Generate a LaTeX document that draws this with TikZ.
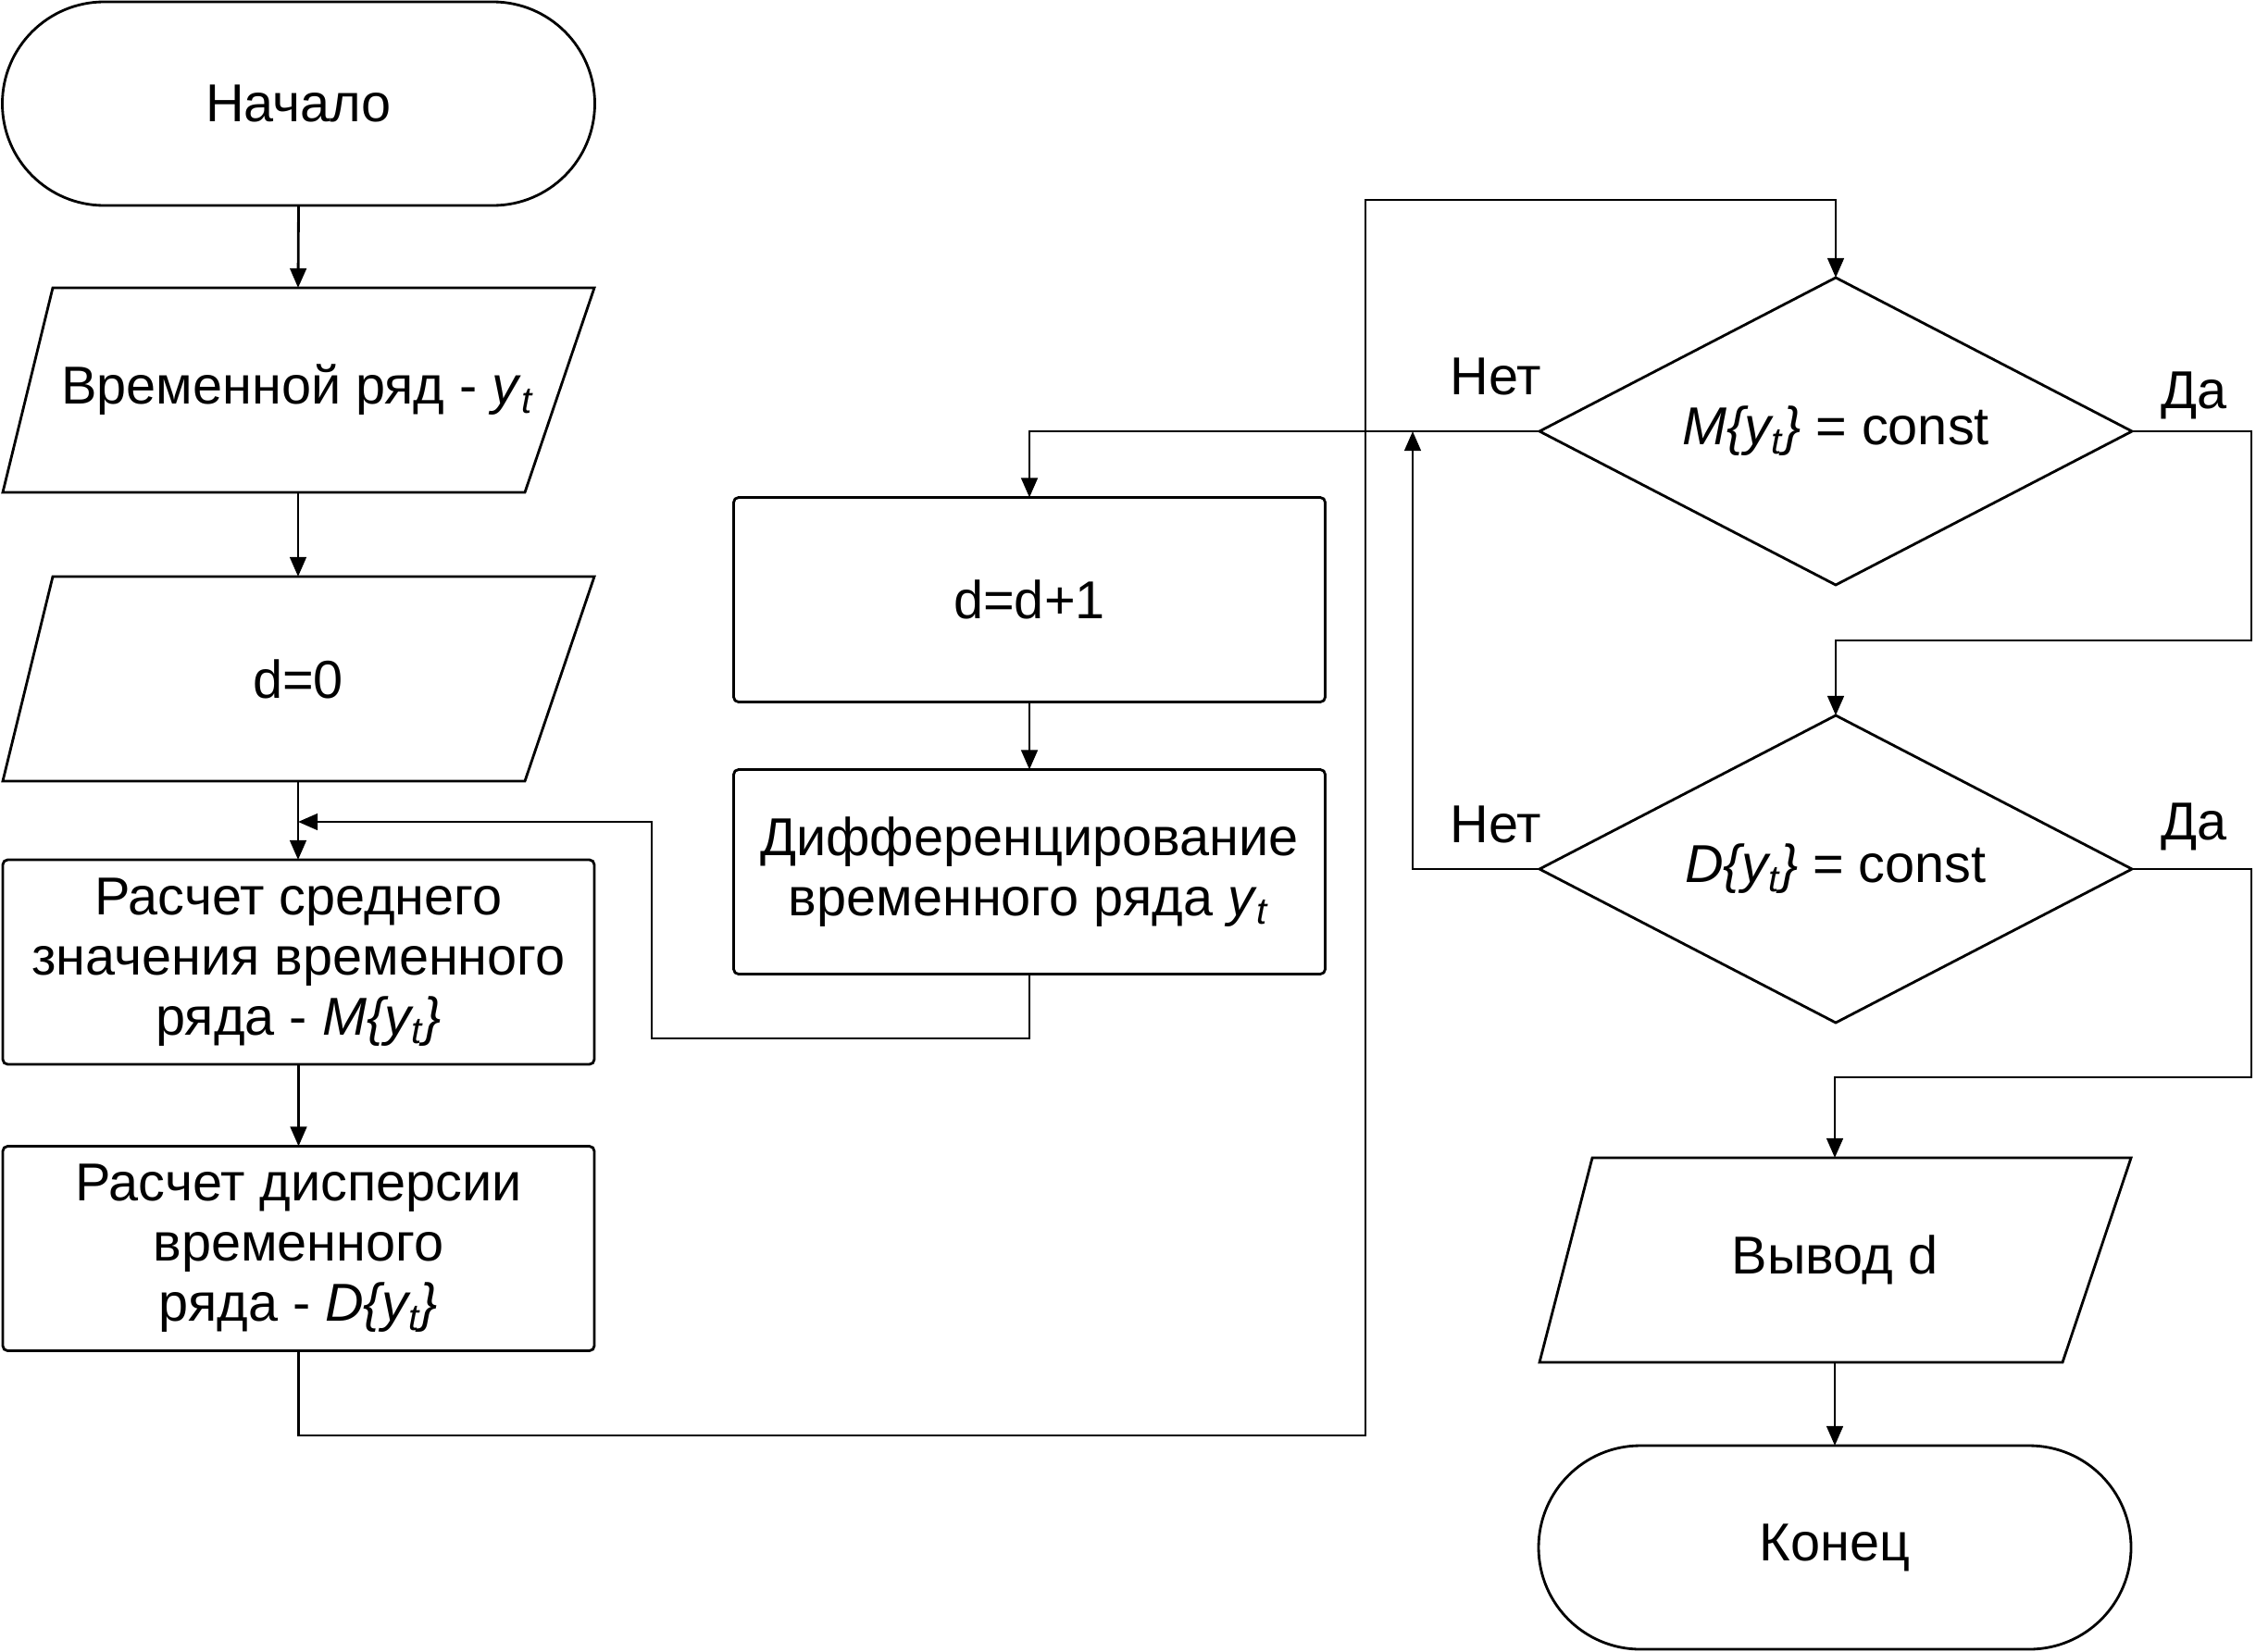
\documentclass[tikz,border=0pt]{standalone}
\usepackage{fontspec}
\setmainfont{Liberation Sans}
\usetikzlibrary{shapes.geometric,arrows.meta}

\newcommand{\yt}{\textit{y}\textsubscript{\textit{t}}}

\begin{document}
\begin{tikzpicture}[
  font=\fontsize{16.4}{18.5}\selectfont,
  every node/.style={inner sep=0pt, outer sep=0pt},
  line/.style={line width=0.8pt},
  arr/.style={line, -{Triangle[length=6pt,width=5pt]}},
  proc/.style={draw, line width=0.8pt, rounded corners=1.5pt,
    minimum width=6.39cm, minimum height=2.21cm, align=center},
  term/.style={draw, line width=0.8pt, rounded corners=1.1cm,
    minimum width=6.4cm, minimum height=2.2cm},
  iobox/.style={minimum width=6.39cm, minimum height=2.21cm, align=center},
  cond/.style={draw, diamond, aspect=1.92, line width=0.8pt,
    minimum width=6.4cm, minimum height=3.32cm},
]
\useasboundingbox (0,0) rectangle (24.37,-17.84);

% left column
\node[term] (start) at (3.225,-1.12) {Начало};

\draw[line] (0.57,-3.11) -- (6.42,-3.11) -- (5.67,-5.32) -- (0.03,-5.32) -- cycle;
\node[iobox] (series) at (3.22,-4.215) {Временной ряд - \yt};

\draw[line] (0.57,-6.23) -- (6.42,-6.23) -- (5.67,-8.44) -- (0.03,-8.44) -- cycle;
\node[iobox] (dzero) at (3.22,-7.335) {d=0};

\node[proc] (mean) at (3.225,-10.395)
  {Расчет среднего\\значения временного\\ряда - \textit{M\{y\textsubscript{t}\}}};
\node[proc] (disp) at (3.225,-13.49)
  {Расчет дисперсии\\временного\\ряда - \textit{D\{y\textsubscript{t}\}}};

% middle column
\node[proc] (incr) at (11.12,-6.48) {d=d+1};
\node[proc] (diff) at (11.12,-9.42) {Дифференцирование\\временного ряда \yt};

% right column
\node[cond] (dm) at (19.83,-4.66) {\textit{M\{y\textsubscript{t}\}} = const};
\node[cond] (dd) at (19.83,-9.39) {\textit{D\{y\textsubscript{t}\}} = const};

\draw[line] (17.20,-12.51) -- (23.02,-12.51) -- (22.28,-14.72) -- (16.63,-14.72) -- cycle;
\node[iobox] (out) at (19.82,-13.615) {Вывод d};

\node[term] (stop) at (19.82,-16.72) {Конец};

% branch labels
\node (no1) at (16.16,-4.07) {Нет};
\node (yes1) at (23.70,-4.27) {Да};
\node (no2) at (16.16,-8.91) {Нет};
\node (yes2) at (23.70,-8.93) {Да};

% routing points
\coordinate (j1) at (14.75,-15.51);
\coordinate (j2) at (14.75,-2.16);
\coordinate (k1) at (7.04,-11.22);
\coordinate (k2) at (3.22,-8.88);
\coordinate (n2) at (15.26,-4.66);
\coordinate (r1) at (24.32,-6.92);
\coordinate (r2) at (24.32,-11.64);

% connectors
\draw[arr] (start.south) -- (series.north);
\draw[arr] (series.south) -- (dzero.north);
\draw[arr] (dzero.south) -- (3.22,-9.29);
\draw[arr] (mean.south) -- (disp.north);
\draw[arr] (disp.south) |- (j1) -- (j2) -| (dm.north);
\draw[arr] (dm.west) -| (incr.north);
\draw[arr] (incr.south) -- (diff.north);
\draw[arr] (diff.south) |- (k1) |- (k2);
\draw[arr] (dd.west) -| (n2);
\draw[arr] (dm.east) -| (r1) -| (dd.north);
\draw[arr] (dd.east) -| (r2) -| (out.north);
\draw[arr] (out.south) -- (stop.north);
\end{tikzpicture}
\end{document}
